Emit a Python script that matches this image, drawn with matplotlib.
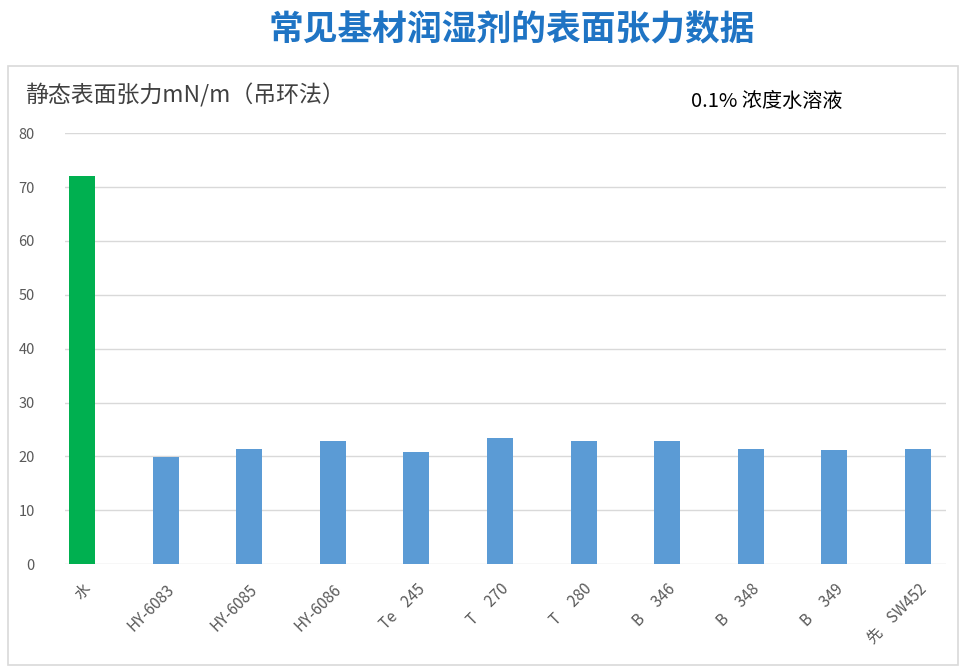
import matplotlib.pyplot as plt
from matplotlib.patches import Rectangle

plt.rcParams['font.family'] = ['Noto Sans CJK SC', 'DejaVu Sans']

# -- data --
labels = ['水', 'HY-6083', 'HY-6085', 'HY-6086', 'Te    245', 'T     270',
          'T     280', 'B     346', 'B     348', 'B     349', '先    SW452']
tension = [72.0, 19.8, 21.4, 22.8, 20.9, 23.5, 22.8, 22.8, 21.4, 21.2, 21.4]
yticks = [0, 10, 20, 30, 40, 50, 60, 70, 80]

colors = ['#00B050'] + ['#5B9BD5'] * (len(labels) - 1)

fig = plt.figure(figsize=(9.6, 6.66), dpi=100)

# light frame round the chart area
fig.patches.append(Rectangle((8/960, 1-665/666), 950/960, 599/666,
                             transform=fig.transFigure, fill=False,
                             edgecolor='#D9D9D9', linewidth=1.2))

ax = fig.add_axes([0.068, 0.153, 0.917, 0.647])
x = range(len(labels))
ax.bar(x, tension, width=0.31, color=colors, zorder=3)

ax.set_ylim(0, 80)
ax.set_yticks(yticks)
ax.set_xlim(-0.2, 10.33)
ax.set_xticks(list(x))
ax.set_xticklabels(labels, rotation=45, ha='right', rotation_mode='anchor',
                   fontsize=11, color='#595959')
ax.tick_params(axis='y', labelsize=10.5, labelcolor='#595959', length=0, pad=22)
ax.tick_params(axis='x', length=0, pad=12)
ax.grid(axis='y', color='#D9D9D9', linewidth=1, zorder=0)
for s in ax.spines.values():
    s.set_visible(False)

fig.text(0.533, 0.955, '常见基材润湿剂的表面张力数据', ha='center', va='center',
         fontsize=25, fontweight='bold', color='#1F74C4')
fig.text(0.026, 0.857, '静态表面张力mN/m（吊环法）', ha='left', va='center',
         fontsize=16.5, color='#404040')
fig.text(0.72, 0.847, '0.1% 浓度水溶液', ha='left', va='center',
         fontsize=14.5, color='#000000')

fig.savefig('out.png', dpi=100)
